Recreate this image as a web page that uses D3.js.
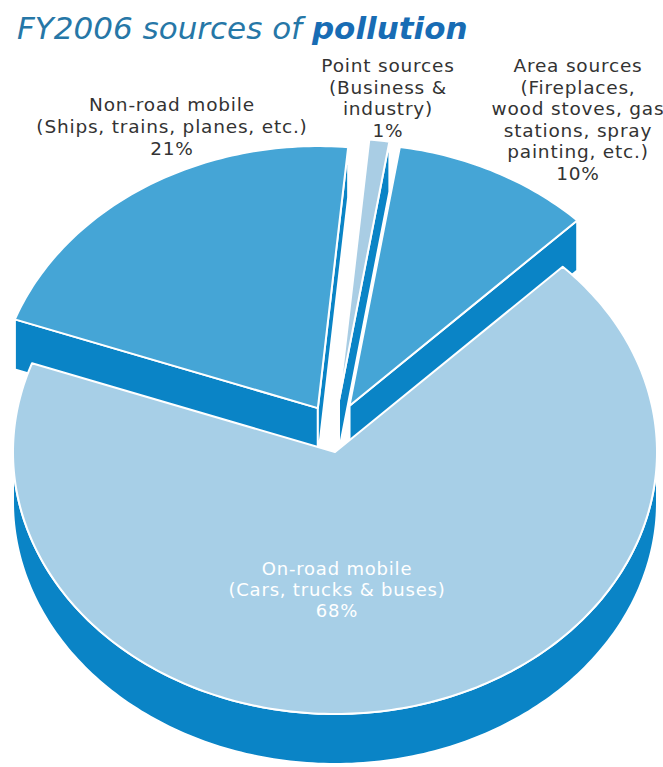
<!DOCTYPE html>
<html>
<head>
<meta charset="utf-8">
<script src="https://cdn.jsdelivr.net/npm/d3@7"></script>
<style>
  html, body { margin: 0; padding: 0; background: #fff; }
  svg { display: block; }
</style>
</head>
<body>
<svg id="chart" width="663" height="767"></svg>
<script>
// Emission sources, FY2006 (percent of total)
const categories = ["Non-road mobile", "Point sources", "Area sources", "On-road mobile"];
const descriptions = [
  ["(Ships, trains, planes, etc.)"],
  ["(Business &", "industry)"],
  ["(Fireplaces,", "wood stoves, gas", "stations, spray", "painting, etc.)"],
  ["(Cars, trucks & buses)"]
];
const shares = [21, 1, 10, 68];
const exploded = [true, true, true, false];
const titleParts = ["FY2006 sources of ", "pollution"];

// ---- layout ----
const W = 663, H = 767;
const cx = 335, cy = 452;          // centre of the pie top
const rx = 322, ry = 262;          // ellipse radii of the tilted disc
const depth = 50;                  // thickness of the disc
const explodeX = 32, explodeY = 52;
const startDeg = -70.2;
const labelAnchors = [[172, 111], [388, 72], [578, 72], [337, 575]];
const lineGap = [22, 21.6, 21.6, 21];
const labelSize = [18.5, 18.5, 18.5, 18];

const topFill = ["#45a5d6", "#a9cde4", "#45a5d6", "#a7cfe7"];
const sideFill = "#0a84c6";
const labelFill = ["#333333", "#333333", "#333333", "#ffffff"];
const fontFamily = "'DejaVu Sans', Verdana, sans-serif";

const svg = d3.select("#chart");

// title
const title = svg.append("text")
  .attr("x", 17).attr("y", 39)
  .style("font-family", fontFamily)
  .style("font-style", "italic")
  .style("font-size", "31px");
title.append("tspan").text(titleParts[0]).attr("fill", "#2677a7");
title.append("tspan").text(titleParts[1]).attr("fill", "#186cb4").style("font-weight", "bold");

// pie layout
const start = startDeg * Math.PI / 180;
const pie = d3.pie().sort(null).value(d => d).startAngle(start).endAngle(start + 2 * Math.PI);
const arcs = pie(shares).map((d, i) => {
  const mid = (d.startAngle + d.endAngle) / 2;
  const ox = exploded[i] ? explodeX * Math.sin(mid) : 0;
  const oy = exploded[i] ? -explodeY * Math.cos(mid) : 0;
  return { ...d, i, mid, ox, oy };
});

const pt = (a, ox, oy, z) => [cx + ox + rx * Math.sin(a), cy + oy - ry * Math.cos(a) + z];
const arcPts = (a0, a1, ox, oy, z) => {
  const n = Math.max(2, Math.ceil(Math.abs(a1 - a0) / (Math.PI / 180)));
  return d3.range(n + 1).map(k => pt(a0 + (a1 - a0) * k / n, ox, oy, z));
};
const closed = d3.line().curve(d3.curveLinearClosed);

// draw from back to front
const order = arcs.slice().sort((a, b) => Math.cos(b.mid) - Math.cos(a.mid));
const g = svg.append("g")
  .attr("stroke", "#ffffff")
  .attr("stroke-width", 2)
  .attr("stroke-linejoin", "round");

order.forEach(d => {
  const { startAngle: s, endAngle: e, ox, oy } = d;
  const apexTop = [cx + ox, cy + oy];
  const apexBot = [cx + ox, cy + oy + depth];

  // curved outer wall, front half only
  [-1, 0, 1].forEach(k => {
    const lo = Math.max(s, Math.PI / 2 + 2 * Math.PI * k);
    const hi = Math.min(e, 3 * Math.PI / 2 + 2 * Math.PI * k);
    if (hi > lo) {
      const pts = arcPts(lo, hi, ox, oy, 0).concat(arcPts(hi, lo, ox, oy, depth));
      g.append("path").attr("d", closed(pts)).attr("fill", sideFill);
    }
  });

  // radial cut faces that turn towards the viewer
  const cut = a => closed([apexTop, pt(a, ox, oy, 0), pt(a, ox, oy, depth), apexBot]);
  if (Math.sin(s) < 0) g.append("path").attr("d", cut(s)).attr("fill", sideFill);
  if (Math.sin(e) > 0) g.append("path").attr("d", cut(e)).attr("fill", sideFill);

  // top face
  g.append("path")
    .attr("d", closed([apexTop].concat(arcPts(s, e, ox, oy, 0))))
    .attr("fill", topFill[d.i]);
});

// labels
arcs.forEach(d => {
  const lines = [categories[d.i]].concat(descriptions[d.i], [shares[d.i] + "%"]);
  const [lx, ly] = labelAnchors[d.i];
  const t = svg.append("text")
    .attr("text-anchor", "middle")
    .attr("fill", labelFill[d.i])
    .style("font-family", fontFamily)
    .style("font-size", labelSize[d.i] + "px")
    .style("letter-spacing", "0.8px");
  lines.forEach((line, j) => {
    t.append("tspan").attr("x", lx).attr("y", ly + j * lineGap[d.i]).text(line);
  });
});
</script>
</body>
</html>
